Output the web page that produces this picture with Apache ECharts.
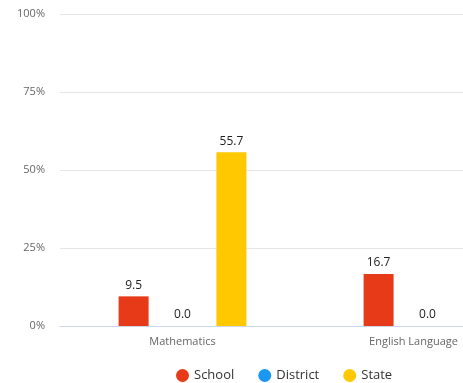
<!DOCTYPE html>
<html><head><meta charset="utf-8">
<script src="https://cdn.jsdelivr.net/npm/echarts@6/dist/echarts.min.js"></script>
<style>html,body{margin:0;padding:0;background:#fff}#c{width:463px;height:383px}</style>
</head><body><div id="c"></div>
<script>
const categories = ['Mathematics', 'English Language'];
const schoolValues = [9.5, 16.7];
const districtValues = [0.0, 0.0];
const stateValues = [55.7, null];
const yTicks = [0, 25, 50, 75, 100];

const font = 'Open Sans';
const chart = echarts.init(document.getElementById('c'), null, {renderer: 'canvas'});
const mkSeries = (name, data, color) => ({
  name, type: 'bar', data, barWidth: 30, barGap: '63%',
  itemStyle: {color},
  label: {show: true, position: 'top', distance: 5, color: '#222', fontSize: 12, fontFamily: font,
    formatter: p => p.value == null ? '' : Number(p.value).toFixed(1)},
  emphasis: {disabled: true}
});
chart.setOption({
  animation: false,
  grid: {left: 60, width: 490, top: 14, bottom: 57, containLabel: false, outerBoundsMode: 'none'},
  legend: {
    left: 171, top: 364, icon: 'circle', itemWidth: 13, itemHeight: 13, itemGap: 24,
    textStyle: {color: '#333', fontSize: 13, fontFamily: font}
  },
  xAxis: {
    type: 'category', data: categories,
    axisLine: {lineStyle: {color: '#ccd6eb'}},
    axisTick: {show: false},
    axisLabel: {color: '#666', fontSize: 11, fontFamily: font, margin: 10,
      formatter: v => v === 'English Language' ? '{e|' + v + '}' : v,
      rich: {e: {padding: [0, 28, 0, 0], color: '#666', fontSize: 11, fontFamily: font}}}
  },
  yAxis: {
    type: 'value', min: yTicks[0], max: yTicks[yTicks.length - 1], interval: 25,
    axisLabel: {formatter: '{value}%', color: '#666', fontSize: 11, fontFamily: font, margin: 15},
    splitLine: {lineStyle: {color: '#e6e6e6'}},
    axisLine: {show: false}, axisTick: {show: false}
  },
  series: [
    mkSeries('School', schoolValues, '#e63a19'),
    mkSeries('District', districtValues, '#1a97f2'),
    mkSeries('State', stateValues, '#ffc800')
  ]
});
</script></body></html>
